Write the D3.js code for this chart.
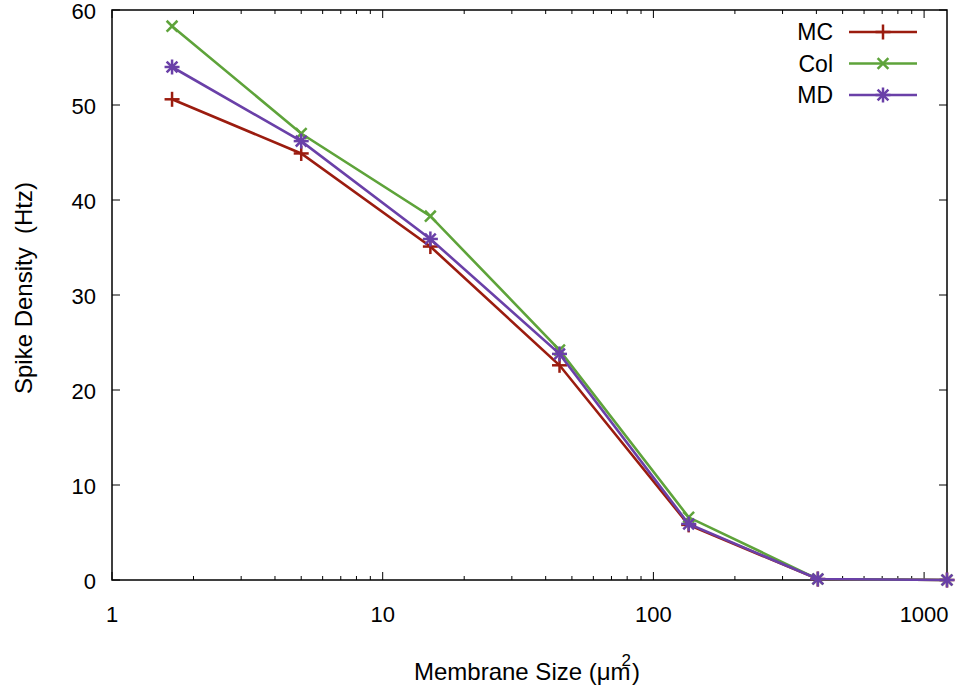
<!DOCTYPE html>
<html><head><meta charset="utf-8">
<script src="https://cdn.jsdelivr.net/npm/d3@7"></script>
<style>body{margin:0;background:#fff}svg{display:block}text{font-family:"Liberation Sans",Arial,sans-serif;white-space:pre}</style>
</head><body>
<svg id="c" width="959" height="685"></svg>
<script>
const sizes = [5/3, 5, 15, 45, 135, 405, 1215];
const mc  = [50.6, 44.9, 35.1, 22.6, 5.8, 0.1, 0];
const col = [58.3, 47.0, 38.3, 24.2, 6.6, 0.1, 0];
const md  = [54.0, 46.2, 35.9, 23.8, 5.9, 0.1, 0];
const seriesNames = ["MC", "Col", "MD"];
const yTicks = [0, 10, 20, 30, 40, 50, 60];
const xTicks = [1, 10, 100, 1000];

const colors = {MC: "#9b1c0f", Col: "#5ea33a", MD: "#6a40a8"};
const seriesData = {MC: mc, Col: col, MD: md};

const svg = d3.select("#c");
const L = 112, R = 947, T = 10, B = 580;
const x = d3.scaleLog().domain([1, 1215]).range([L, R]);
const y = d3.scaleLinear().domain([0, 60]).range([B, T]);

const minor = [];
for (let d = 1; d <= 1000; d *= 10) for (let k = 2; k <= 9; k++) if (d * k <= 1215) minor.push(d * k);

const g = svg.append("g");
minor.forEach(v => {
  g.append("line").attr("x1", x(v)).attr("x2", x(v)).attr("y1", B).attr("y2", B - 4).attr("stroke", "#000").attr("stroke-width", 1);
  g.append("line").attr("x1", x(v)).attr("x2", x(v)).attr("y1", T).attr("y2", T + 4).attr("stroke", "#000").attr("stroke-width", 1);
});
xTicks.forEach(v => {
  g.append("line").attr("x1", x(v)).attr("x2", x(v)).attr("y1", B).attr("y2", B - 8).attr("stroke", "#000").attr("stroke-width", 1);
  g.append("line").attr("x1", x(v)).attr("x2", x(v)).attr("y1", T).attr("y2", T + 8).attr("stroke", "#000").attr("stroke-width", 1);
  g.append("text").attr("x", x(v)).attr("y", 622).attr("text-anchor", "middle").attr("font-size", 22).text(v);
});
yTicks.forEach(v => {
  g.append("line").attr("x1", L).attr("x2", L + 8).attr("y1", y(v)).attr("y2", y(v)).attr("stroke", "#000").attr("stroke-width", 1);
  g.append("line").attr("x1", R).attr("x2", R - 8).attr("y1", y(v)).attr("y2", y(v)).attr("stroke", "#000").attr("stroke-width", 1);
  g.append("text").attr("x", 96).attr("y", y(v) + 9).attr("text-anchor", "end").attr("font-size", 22).text(v);
});
g.append("rect").attr("x", L).attr("y", T).attr("width", R - L).attr("height", B - T).attr("fill", "none").attr("stroke", "#000").attr("stroke-width", 1.5);

const xl = svg.append("text").attr("x", 527).attr("y", 680).attr("text-anchor", "middle").attr("font-size", 24);
xl.append("tspan").text("Membrane Size (\u03bcm");
xl.append("tspan").attr("dy", -14).attr("dx", -9).attr("font-size", 17).text("2");
xl.append("tspan").attr("dy", 14).attr("dx", 1).text(")");
svg.append("text").attr("transform", "translate(32,288) rotate(-90)").attr("text-anchor", "middle").attr("font-size", 24).text("Spike Density  (Htz)");

function marker(sel, name, cx, cy) {
  const s = 7.5, c = colors[name];
  const gg = sel.append("g").attr("stroke", c).attr("stroke-width", 2.5);
  if (name === "MC" || name === "MD") {
    gg.append("line").attr("x1", cx - s).attr("x2", cx + s).attr("y1", cy).attr("y2", cy);
    gg.append("line").attr("x1", cx).attr("x2", cx).attr("y1", cy - s).attr("y2", cy + s);
  }
  if (name === "Col" || name === "MD") {
    const t = s * 0.72;
    gg.append("line").attr("x1", cx - t).attr("x2", cx + t).attr("y1", cy - t).attr("y2", cy + t);
    gg.append("line").attr("x1", cx - t).attr("x2", cx + t).attr("y1", cy + t).attr("y2", cy - t);
  }
}

const line = d3.line().x((d, i) => x(sizes[i])).y(d => y(d));
seriesNames.forEach(n => {
  svg.append("path").datum(seriesData[n]).attr("d", line).attr("fill", "none").attr("stroke", colors[n]).attr("stroke-width", 2.6);
  seriesData[n].forEach((v, i) => marker(svg, n, x(sizes[i]), y(v)));
});

seriesNames.forEach((n, i) => {
  const ly = 32 + i * 31.5;
  svg.append("text").attr("x", 833).attr("y", ly + 8).attr("text-anchor", "end").attr("font-size", 23).text(n);
  svg.append("line").attr("x1", 849).attr("x2", 917).attr("y1", ly).attr("y2", ly).attr("stroke", colors[n]).attr("stroke-width", 2.6);
  marker(svg, n, 883, ly);
});
</script>
</body></html>
